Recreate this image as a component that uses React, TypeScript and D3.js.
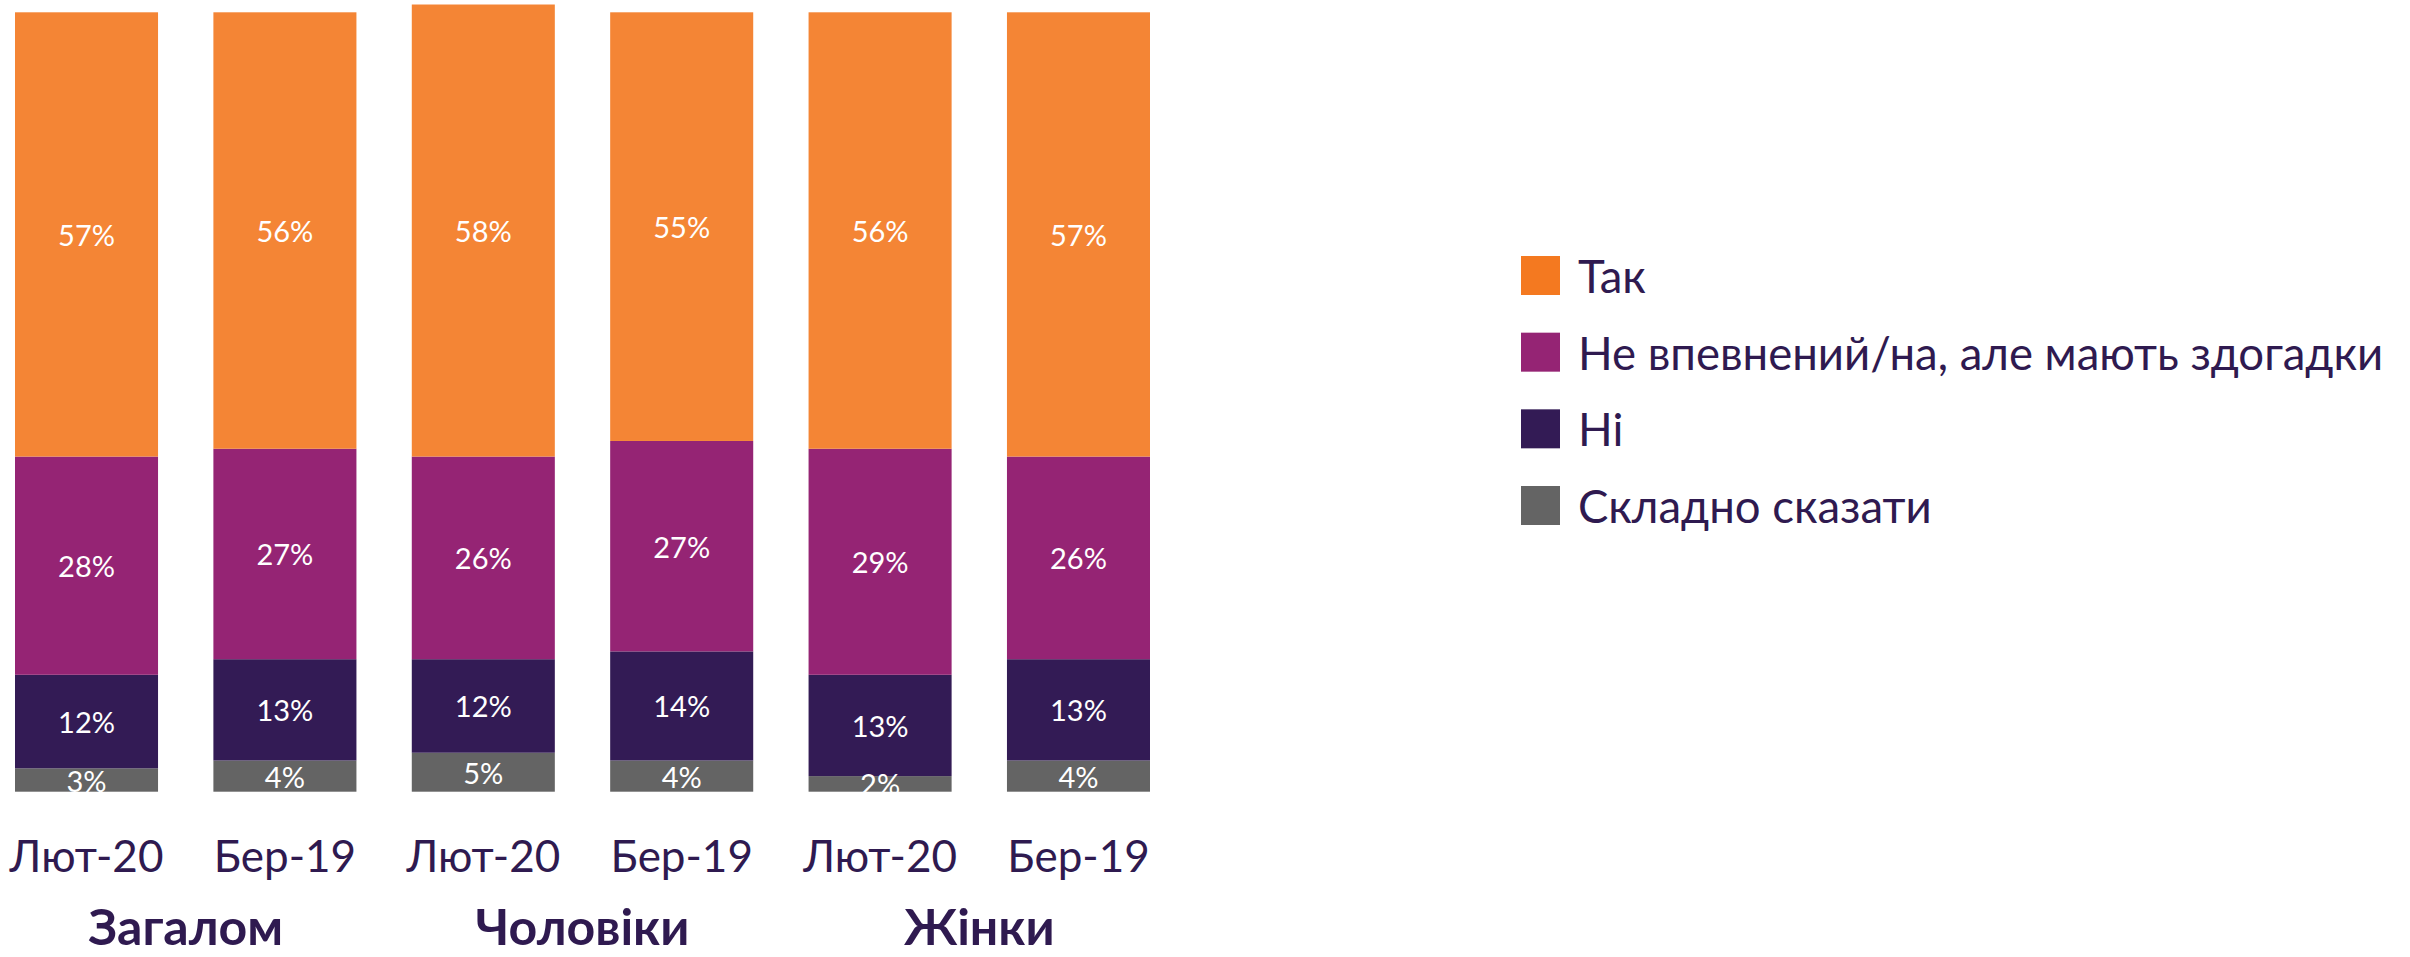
import React from "react";
import * as d3 from "d3";

const periods = ["Лют-20", "Бер-19", "Лют-20", "Бер-19", "Лют-20", "Бер-19"];
const groups = ["Загалом", "Чоловіки", "Жінки"];
const seriesNames = ["Так", "Не впевнений/на, але мають здогадки", "Ні", "Складно сказати"];
const tak = [57, 56, 58, 55, 56, 57];
const notSure = [28, 27, 26, 27, 29, 26];
const no = [12, 13, 12, 14, 13, 13];
const hard = [3, 4, 5, 4, 2, 4];

const barColors = ["#F48535", "#952474", "#331B55", "#646464"];
const legendColors = ["#F47920", "#952474", "#331B55", "#646464"];
const textColor = "#2F1A50";
const FONT = "Lato, 'Open Sans', sans-serif";

export default function App() {
  const W = 2410, H = 957;
  const rows = periods.map((p, i) => ({ i, tak: tak[i], notSure: notSure[i], no: no[i], hard: hard[i] }));
  const keys = ["hard", "no", "notSure", "tak"];
  const stack = d3.stack<any>().keys(keys);
  const stacked = stack(rows);

  const x = d3.scaleBand<number>().domain(periods.map((_, i) => i)).range([15, 1150]).paddingInner(0.279).paddingOuter(0);
  const y = d3.scaleLinear().domain([0, 100]).range([791.7, 12.3]);
  const colorFor: Record<string, string> = { tak: barColors[0], notSure: barColors[1], no: barColors[2], hard: barColors[3] };

  const legendY = d3.scaleLinear().domain([0, 3]).range([275.5, 505.5]);

  return (
    <svg width={W} height={H} style={{ position: "absolute", left: 0, top: 0, background: "#fff" }} fontFamily={FONT}>
      {stacked.map((s) => (
        <g key={s.key}>
          {s.map((d, i) => (
            <rect key={i} x={x(i)} y={y(d[1])} width={x.bandwidth()} height={y(d[0]) - y(d[1])} fill={colorFor[s.key]} />
          ))}
        </g>
      ))}
      {stacked.map((s) => (
        <g key={s.key + "l"}>
          {s.map((d, i) => (
            <text key={i} x={(x(i) as number) + x.bandwidth() / 2} y={(y(d[0]) + y(d[1])) / 2} textAnchor="middle" dominantBaseline="central" fill="#fff" fontSize={29} fontWeight={400}>
              {d[1] - d[0]}%
            </text>
          ))}
        </g>
      ))}
      {periods.map((p, i) => (
        <text key={i} x={(x(i) as number) + x.bandwidth() / 2} y={872} textAnchor="middle" fill={textColor} fontSize={44}>
          {p}
        </text>
      ))}
      {groups.map((g, gi) => {
        const c = ((x(gi * 2) as number) + (x(gi * 2 + 1) as number) + x.bandwidth()) / 2;
        return (
          <text key={g} x={c} y={945} textAnchor="middle" fill={textColor} fontSize={50} fontWeight={700}>
            {g}
          </text>
        );
      })}
      {seriesNames.map((n, i) => (
        <g key={n}>
          <rect x={1521} y={legendY(i) - 19.5} width={39} height={39} fill={legendColors[i]} />
          <text x={1578} y={legendY(i)} dominantBaseline="central" fill={textColor} fontSize={45.5}>
            {n}
          </text>
        </g>
      ))}
    </svg>
  );
}
